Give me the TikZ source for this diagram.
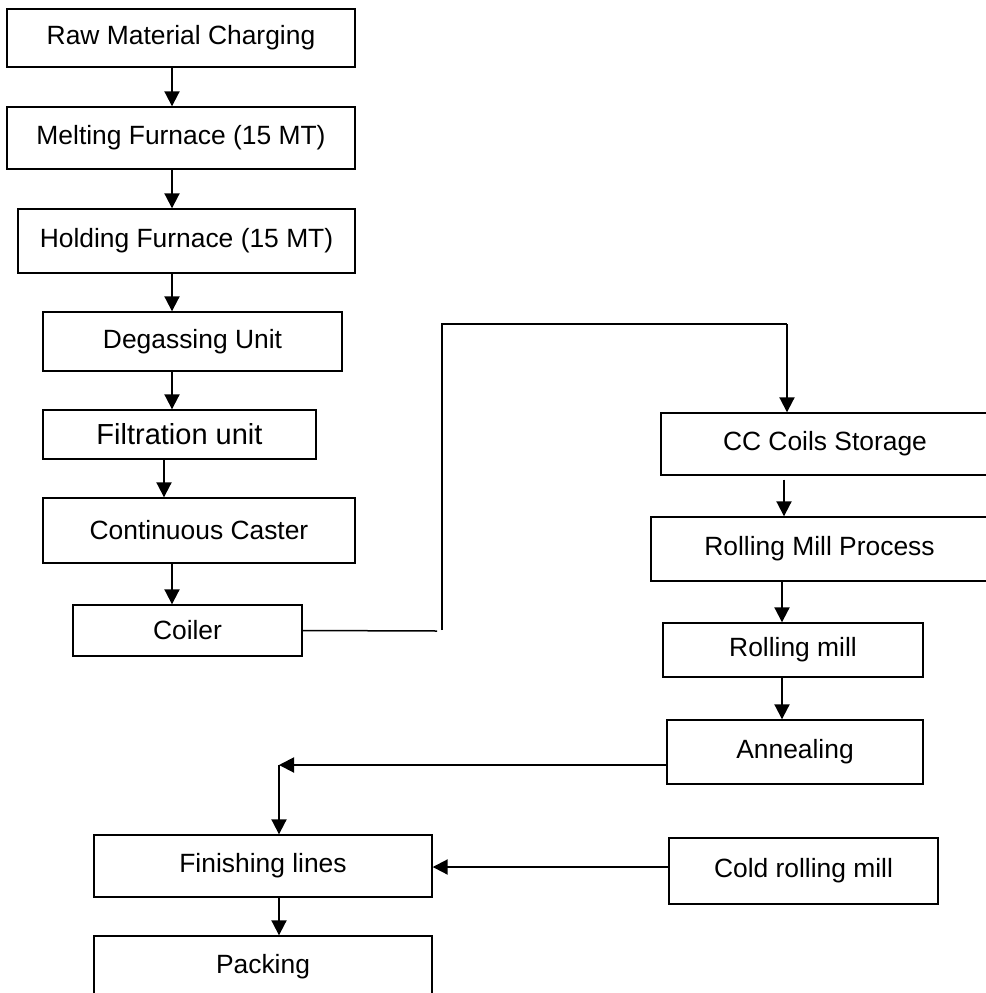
\documentclass[tikz,border=0pt]{standalone}
\usepackage{fontspec}
\setmainfont{Liberation Sans}
\usetikzlibrary{arrows.meta}
\begin{document}
\begin{tikzpicture}[x=1pt,y=-1pt,
  box/.style={draw=black,line width=1.4pt,rectangle,inner sep=0pt,align=center,
    font=\fontsize{26.4pt}{30pt}\selectfont},
  arr/.style={line width=2pt,-{Triangle[length=15pt,width=15pt]}},
  link/.style={line width=1.5pt}]
\useasboundingbox (0,0) rectangle (985,993);
% left column
\node[box,minimum width=348pt,minimum height=58pt] (raw) at (181,38) {Raw Material Charging};
\node[box,minimum width=348pt,minimum height=62pt] (melt) at (181,138) {Melting Furnace (15 MT)};
\node[box,minimum width=337pt,minimum height=64pt] (hold) at (186.5,241) {Holding Furnace (15 MT)};
\node[box,minimum width=299pt,minimum height=59pt] (degas) at (192.5,341.5) {Degassing Unit};
\node[box,minimum width=273pt,minimum height=49pt,font=\fontsize{29pt}{32pt}\selectfont] (filt) at (179.5,434.5) {Filtration unit};
\node[box,minimum width=312pt,minimum height=65pt] (cast) at (199,530.5) {Continuous Caster};
\node[box,minimum width=229pt,minimum height=51pt] (coiler) at (187.5,630.5) {Coiler};
% right column
\node[box,minimum width=328pt,minimum height=62pt] (ccs) at (825,444) {CC Coils Storage};
\node[box,minimum width=337pt,minimum height=64pt] (rmp) at (819.5,549) {Rolling Mill Process};
\node[box,minimum width=260pt,minimum height=54pt] (rm) at (793,650) {Rolling mill};
\node[box,minimum width=256pt,minimum height=64pt] (ann) at (795,752) {Annealing};
\node[box,minimum width=269pt,minimum height=66pt] (crm) at (803.5,871) {Cold rolling mill};
% bottom
\node[box,minimum width=338pt,minimum height=62pt] (fin) at (263,866) {Finishing lines};
\node[box,minimum width=338pt,minimum height=62pt] (pack) at (263,967) {Packing};
% column x positions and joints
\coordinate (xa) at (172,0);
\coordinate (xb) at (164,0);
\coordinate (xc) at (784,0);
\coordinate (xd) at (782,0);
\coordinate (xe) at (279,0);
\coordinate (j1) at (437,631);
\coordinate (j2) at (442,630);
\coordinate (j3) at (442,324);
\coordinate (j4) at (787,324);
\coordinate (j5) at (279,765);
% arrows
\draw[arr] (xa |- raw.south) -- (xa |- melt.north);
\draw[arr] (xa |- melt.south) -- (xa |- hold.north);
\draw[arr] (xa |- hold.south) -- (xa |- degas.north);
\draw[arr] (xa |- degas.south) -- (xa |- filt.north);
\draw[arr] (xb |- filt.south) -- (xb |- cast.north);
\draw[arr] (xa |- cast.south) -- (xa |- coiler.north);
\draw[link] (coiler.east) -- (j1);
\draw[link] (j2) -- (j3) -- (j4);
\draw[arr] (j4) -- (j4 |- ccs.north);
\draw[arr,shorten <=4pt] (xc |- ccs.south) -- (xc |- rmp.north);
\draw[arr] (xd |- rmp.south) -- (xd |- rm.north);
\draw[arr] (xd |- rm.south) -- (xd |- ann.north);
\draw[arr] (ann.west |- j5) -- (j5);
\draw[arr] (j5) -- (j5 |- fin.north);
\draw[arr] (crm.west |- 0,867) -- (fin.east |- 0,867);
\draw[arr] (xe |- fin.south) -- (xe |- pack.north);
\end{tikzpicture}
\end{document}
